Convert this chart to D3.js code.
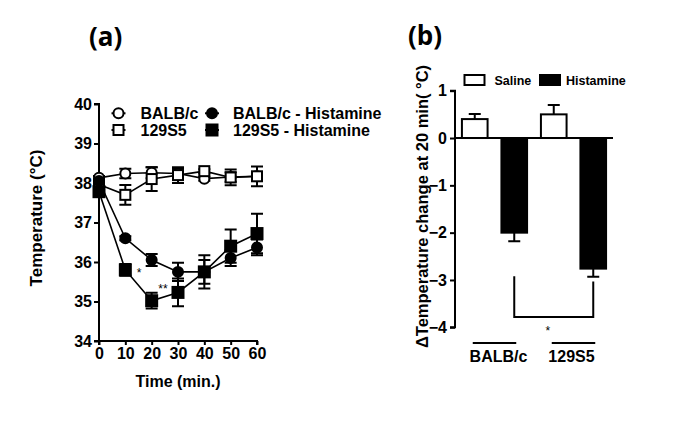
<!DOCTYPE html>
<html><head><meta charset="utf-8">
<script src="https://cdn.jsdelivr.net/npm/d3@7"></script>
<style>
body{margin:0;background:#fff;}
svg{display:block;font-family:"Liberation Sans",Arial,sans-serif;}
</style></head>
<body>
<svg id="c" width="685" height="427"></svg>
<script>
// ---------- Data panel (a) ----------
const times = [0, 10, 20, 30, 40, 50, 60];
const balbSaline      = [38.13, 38.24, 38.26, 38.24, 38.11, 38.15, 38.17];
const balbSalineErr   = [0.05, 0.12, 0.14, 0.12, 0.05, 0.12, 0.1];
const s129Saline      = [37.96, 37.7, 38.1, 38.2, 38.3, 38.14, 38.17];
const s129SalineErr   = [0.05, 0.25, 0.3, 0.2, 0.05, 0.2, 0.25];
const balbHist        = [38.05, 36.6, 36.05, 35.75, 35.75, 36.1, 36.37];
const balbHistErr     = [0.05, 0.05, 0.15, 0.23, 0.3, 0.2, 0.2];
const s129Hist        = [37.78, 35.8, 35.02, 35.23, 35.75, 36.4, 36.72];
const s129HistErr     = [0.05, 0.15, 0.2, 0.35, 0.42, 0.42, 0.5];
const yTicksA = [34, 35, 36, 37, 38, 39, 40];
const xTicksA = [0, 10, 20, 30, 40, 50, 60];
const legendA = ["BALB/c", "129S5", "BALB/c - Histamine", "129S5 - Histamine"];
const starsA = [{t: 15.2, v: 35.62, s: "*"}, {t: 24.3, v: 35.22, s: "**"}];

// ---------- Data panel (b) ----------
const barCats   = ["BALB/c Saline", "BALB/c Histamine", "129S5 Saline", "129S5 Histamine"];
const barVals   = [0.4, -2.0, 0.5, -2.76];
const barErr    = [0.11, 0.18, 0.2, 0.17];
const barFill   = ["white", "black", "white", "black"];
const yTicksB   = [-4, -3, -2, -1, 0, 1];
const groups    = ["BALB/c", "129S5"];
const legendB   = ["Saline", "Histamine"];
const bracketB  = {left: -2.92, right: -3.03, bottom: -3.78};

const svg = d3.select("#c");

// ================= Panel (a) =================
const xA = d3.scaleLinear().domain([0, 60]).range([99, 257]);
const yA = d3.scaleLinear().domain([34, 40]).range([341, 104]);
const gA = svg.append("g");

svg.append("text").attr("x", 89).attr("y", 46).attr("font-size", 26).attr("font-weight", "bold")
  .attr("font-family", "'Open Sans','Liberation Sans',sans-serif").text("(a)");

const axA = gA.append("g").attr("transform", "translate(99,0)")
  .call(d3.axisLeft(yA).tickValues(yTicksA).tickSize(5).tickPadding(2).tickFormat(d3.format("d")));
const axXA = gA.append("g").attr("transform", "translate(0,341)")
  .call(d3.axisBottom(xA).tickValues(xTicksA).tickSize(4).tickPadding(3).tickFormat(d3.format("d")));
[axA, axXA].forEach(a => {
  a.select(".domain").attr("stroke-width", 2).attr("stroke", "#000");
  a.selectAll(".tick line").attr("stroke-width", 2).attr("stroke", "#000");
  a.selectAll("text").attr("font-size", 16).attr("font-weight", "bold").attr("fill", "#000")
    .attr("font-family", "'Liberation Sans',Arial,sans-serif");
});
axA.select(".domain").attr("d", `M-5,${yA(40)}H0V${yA(34)}H-5`);
axXA.select(".domain").attr("d", `M${xA(0)},4V0H${xA(60)}V4`);

gA.append("text").attr("transform", `translate(42,218) rotate(-90)`).attr("text-anchor", "middle")
  .attr("font-size", 17).attr("font-weight", "bold").text("Temperature (°C)");
gA.append("text").attr("x", 178).attr("y", 387).attr("text-anchor", "middle")
  .attr("font-size", 16).attr("font-weight", "bold").text("Time (min.)");

const seriesA = [
  {v: balbSaline, e: balbSaline.map((d, i) => balbSalineErr[i]), shape: "circle", fill: "white"},
  {v: s129Saline, e: s129SalineErr, shape: "square", fill: "white"},
  {v: balbHist, e: balbHistErr, shape: "circle", fill: "black"},
  {v: s129Hist, e: s129HistErr, shape: "square", fill: "black"},
];
const line = d3.line().x((d, i) => xA(times[i])).y(d => yA(d));

function marker(g, shape, fill, x, y) {
  if (shape === "circle") {
    g.append("circle").attr("cx", x).attr("cy", y).attr("r", 5)
      .attr("fill", fill).attr("stroke", "#000").attr("stroke-width", 2);
  } else {
    const s = fill === "black" ? 11 : 10;
    g.append("rect").attr("x", x - s / 2).attr("y", y - s / 2).attr("width", s).attr("height", s)
      .attr("fill", fill).attr("stroke", "#000").attr("stroke-width", 2);
  }
}

seriesA.forEach(s => {
  gA.append("path").datum(s.v).attr("d", line).attr("fill", "none").attr("stroke", "#000").attr("stroke-width", 1.6);
});
seriesA.forEach(s => {
  s.v.forEach((v, i) => {
    const x = xA(times[i]), y1 = yA(v + s.e[i]), y2 = yA(v - s.e[i]);
    gA.append("path").attr("d", `M${x},${y1}V${y2}M${x - 6},${y1}H${x + 6}M${x - 6},${y2}H${x + 6}`)
      .attr("stroke", "#000").attr("stroke-width", 2).attr("fill", "none");
  });
});
seriesA.forEach(s => {
  s.v.forEach((v, i) => marker(gA, s.shape, s.fill, xA(times[i]), yA(v)));
});
starsA.forEach(st => {
  gA.append("text").attr("x", xA(st.t)).attr("y", yA(st.v)).attr("text-anchor", "middle")
    .attr("font-size", 12).text(st.s);
});

// legend a
const legPos = [
  {x: 118.5, y: 113.3, tx: 140.5}, {x: 118.5, y: 130, tx: 140.5},
  {x: 212, y: 113.3, tx: 233}, {x: 212, y: 130, tx: 233}
];
legendA.forEach((t, i) => {
  const p = legPos[i], s = seriesA[i];
  gA.append("line").attr("x1", p.x - 7).attr("x2", p.x + 7).attr("y1", p.y).attr("y2", p.y)
    .attr("stroke", "#000").attr("stroke-width", 2);
  marker(gA, s.shape, s.fill, p.x, p.y);
  gA.append("text").attr("x", p.tx).attr("y", p.y).attr("dy", "0.36em")
    .attr("font-size", 16).attr("font-weight", "bold").text(t);
});

// ================= Panel (b) =================
const xB = d3.scaleBand().domain(barCats).range([455, 613]).paddingInner(0.3).paddingOuter(0.15);
const yB = d3.scaleLinear().domain([-4, 1]).range([327.3, 90.7]);
const gB = svg.append("g");

svg.append("text").attr("x", 408).attr("y", 45).attr("font-size", 26).attr("font-weight", "bold")
  .attr("font-family", "'Open Sans','Liberation Sans',sans-serif").text("(b)");

const axB = gB.append("g").attr("transform", "translate(455,0)")
  .call(d3.axisLeft(yB).tickValues(yTicksB).tickSize(5).tickPadding(3).tickFormat(d3.format("d")));
axB.select(".domain").attr("d", `M-5,${yB(1)}H0V${yB(-4)}H-5`).attr("stroke-width", 2);
axB.selectAll(".tick line").attr("stroke-width", 2);
axB.selectAll("text").attr("font-size", 16).attr("font-weight", "bold").attr("fill", "#000")
  .attr("font-family", "'Liberation Sans',Arial,sans-serif");

gB.append("text").attr("transform", `translate(428,206.5) rotate(-90)`).attr("text-anchor", "middle")
  .attr("font-size", 16.5).attr("font-weight", "bold").text("ΔTemperature change at 20 min( °C)");

// bars
barCats.forEach((c, i) => {
  const v = barVals[i], x0 = xB(c), w = xB.bandwidth();
  const top = Math.min(yB(v), yB(0)), h = Math.abs(yB(v) - yB(0));
  const cx = x0 + w / 2;
  const ee = yB(v + Math.sign(v) * barErr[i]);
  gB.append("path").attr("d", `M${cx},${yB(v)}V${ee}M${cx - 6},${ee}H${cx + 6}`)
    .attr("stroke", "#000").attr("stroke-width", 2).attr("fill", "none");
  gB.append("rect").attr("x", x0 + 1).attr("y", top).attr("width", w - 2).attr("height", h)
    .attr("fill", barFill[i]).attr("stroke", "#000").attr("stroke-width", 2);
});
gB.append("line").attr("x1", 455).attr("x2", 613).attr("y1", yB(0)).attr("y2", yB(0))
  .attr("stroke", "#000").attr("stroke-width", 2);

// bracket
const bl = xB(barCats[1]) + xB.bandwidth() / 2, br = xB(barCats[3]) + xB.bandwidth() / 2;
gB.append("path").attr("d", `M${bl},${yB(bracketB.left)}V${yB(bracketB.bottom)}H${br}V${yB(bracketB.right)}`)
  .attr("stroke", "#000").attr("stroke-width", 2).attr("fill", "none");
gB.append("text").attr("x", (bl + br) / 2 - 6).attr("y", yB(-4) + 8).attr("text-anchor", "middle")
  .attr("font-size", 12).text("*");

// group lines & labels
groups.forEach((g, gi) => {
  const a = xB(barCats[gi * 2]) + xB.bandwidth() / 2 - 2;
  const b = xB(barCats[gi * 2 + 1]) + xB.bandwidth() / 2 + 2;
  gB.append("line").attr("x1", a).attr("x2", b).attr("y1", 343).attr("y2", 343)
    .attr("stroke", "#000").attr("stroke-width", 2);
  gB.append("text").attr("x", (a + b) / 2 + (gi === 0 ? 4 : -2)).attr("y", 362).attr("text-anchor", "middle")
    .attr("font-size", 16).attr("font-weight", "bold").text(g);
});

// legend b
const legBx = [464.5, 540];
legendB.forEach((t, i) => {
  gB.append("rect").attr("x", legBx[i]).attr("y", 75).attr("width", 20).attr("height", 10)
    .attr("fill", i === 0 ? "white" : "black").attr("stroke", "#000").attr("stroke-width", 2);
  gB.append("text").attr("x", legBx[i] + (i === 0 ? 30 : 26)).attr("y", 80).attr("dy", "0.36em")
    .attr("font-size", 12.5).attr("font-weight", "bold").text(t);
});
</script>
</body></html>
